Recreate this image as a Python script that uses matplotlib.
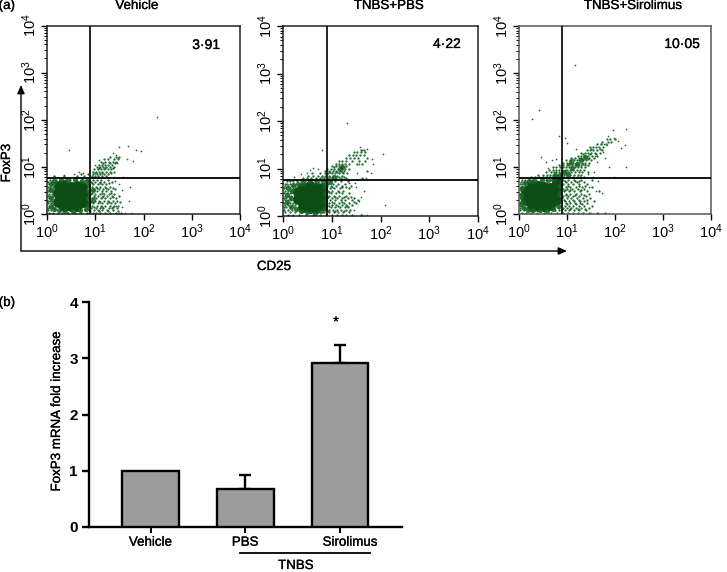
import matplotlib
matplotlib.use('Agg')
import matplotlib.pyplot as plt
import matplotlib.patheffects as pe
from matplotlib.transforms import ScaledTranslation

plt.rcParams['font.family'] = ['Liberation Sans', 'DejaVu Sans']
plt.rcParams['mathtext.fontset'] = 'custom'
plt.rcParams['mathtext.rm'] = 'Liberation Sans'
plt.rcParams['mathtext.default'] = 'regular'

W, H = 727, 572

panel_titles = ['Vehicle', 'TNBS+PBS', 'TNBS+Sirolimus']
panel_percent = ['3·91', '4·22', '10·05']
gate_x = [0.90, 0.90, 0.90]
gate_y = [0.76, 0.76, 0.76]
decades = [0, 1, 2, 3, 4]

# dense centre of each cloud
vehicle_core = [(.22, .25), (.22, .45), (.25, .6), (.36, .17), (.36, .33), (.36, .5), (.36, .62),
                (.5, .16), (.5, .3), (.5, .44), (.5, .58), (.63, .18), (.63, .32), (.63, .46),
                (.63, .6), (.75, .25), (.75, .42), (.72, .58)]
pbs_core = [(.3, .35), (.3, .5), (.42, .2), (.42, .35), (.42, .5), (.42, .6), (.55, .16), (.55, .28),
            (.55, .42), (.55, .56), (.55, .64), (.68, .17), (.68, .3), (.68, .45), (.68, .6),
            (.8, .24), (.8, .4), (.8, .58)]
sirolimus_core = [(.15, .3), (.15, .48), (.27, .18), (.27, .34), (.27, .5), (.27, .6), (.4, .17),
                  (.4, .3), (.4, .45), (.4, .6), (.53, .16), (.53, .28), (.53, .44), (.53, .58),
                  (.65, .2), (.65, .38), (.65, .55), (.77, .3), (.77, .5), (.8, .68)]

# thick band between the centre and the speckle
vehicle_band = [(.08, .18), (.08, .34), (.08, .5), (.08, .64), (.14, .1), (.14, .7), (.24, .08), (.3, .72),
                (.38, .07), (.44, .72), (.54, .07), (.58, .72), (.68, .08), (.72, .71), (.8, .1),
                (.84, .2), (.85, .34), (.85, .48), (.84, .62), (.83, .71), (.95, .3), (.96, .5)]
pbs_band = [(.08, .3), (.08, .45), (.1, .6), (.16, .2), (.16, .38), (.18, .52), (.2, .66), (.26, .14),
            (.3, .68), (.36, .1), (.42, .7), (.5, .08), (.56, .73), (.66, .07), (.7, .72), (.78, .1),
            (.84, .72), (.86, .16), (.86, .32), (.87, .48), (.87, .62), (.96, .72), (1.04, .82),
            (1.16, .98), (1.22, 1.04)]
sirolimus_band = [(.05, .22), (.05, .4), (.06, .56), (.1, .12), (.12, .66), (.18, .09), (.2, .7),
                  (.3, .08), (.32, .71), (.44, .08), (.48, .72), (.58, .07), (.6, .72), (.7, .1),
                  (.72, .74), (.82, .16), (.84, .42), (.86, .6), (.85, .82), (.74, .84), (.93, .9),
                  (1.02, .86), (1.1, .98), (1.2, 1.06), (1.08, 1.1), (1.3, 1.14), (1.38, 1.22)]

# speckle around the centre, one list of CD25 values per FoxP3 level
vehicle_rows = {
    .03: [.05, .12, .22, .31, .44, .58, .71, .83, .95, 1.02, 1.1, 1.2, 1.31, 1.42, 1.53],
    .08: [.03, .09, .17, .26, .37, .52, .66, .78, .88, .97, 1.06, 1.13, 1.25, 1.37],
    .13: [.02, .07, .14, .83, .92, 1.01, 1.09, 1.17, 1.28, 1.34, 1.45],
    .18: [.05, .11, .85, .94, 1.03, 1.12, 1.21, 1.3, 1.39, 1.48],
    .23: [.03, .08, .13, .87, .96, 1.05, 1.15, 1.24, 1.33, 1.41],
    .28: [.02, .06, .11, .9, .99, 1.08, 1.18, 1.27, 1.36, 1.46],
    .33: [.04, .09, .86, .94, 1.02, 1.11, 1.21, 1.3, 1.43],
    .38: [.02, .07, .12, .88, .97, 1.06, 1.16, 1.25, 1.35, 1.49],
    .43: [.04, .1, .91, 1.0, 1.09, 1.19, 1.28, 1.38],
    .48: [.02, .06, .11, .87, .95, 1.03, 1.13, 1.22, 1.33],
    .53: [.04, .09, .14, .89, .98, 1.07, 1.17, 1.26, 1.4],
    .58: [.02, .07, .12, .86, .93, 1.01, 1.1, 1.2, 1.31],
    .63: [.05, .1, .16, .88, .96, 1.05, 1.14, 1.23],
    .68: [.03, .08, .14, .2, .3, .42, .84, .91, 1.0, 1.09, 1.18, 1.34],
    .73: [.06, .12, .18, .27, .37, .48, .6, .7, .8, .87, .95, 1.04, 1.12, 1.26],
    .8: [.14, .36, .62, .76, .93, .99, 1.06, 1.14, 1.22],
    .85: [.7, .85, .96, 1.03, 1.1, 1.18, 1.26],
    .9: [.95, 1.02, 1.08, 1.15, 1.22, 1.3, 1.39],
    .95: [.98, 1.05, 1.12, 1.18, 1.26, 1.33],
    1.0: [1.03, 1.1, 1.16, 1.23, 1.3, 1.38],
    1.05: [1.08, 1.14, 1.2, 1.27, 1.34],
    1.1: [1.12, 1.2, 1.28, 1.36, 1.44],
    1.16: [1.18, 1.27, 1.38, 1.48],
    1.22: [1.3, 1.42, 1.5],
    # levels in between, thinner
    .055: [.9, 1.08, 1.27, 1.47],
    .155: [.98, 1.14, 1.36],
    .255: [.92, 1.1, 1.29, 1.52],
    .355: [.98, 1.15, 1.37],
    .455: [.94, 1.14, 1.33],
    .555: [1.03, 1.22, 1.37],
    .655: [.93, 1.1, 1.28],
    .875: [1.0, 1.14, 1.32],
    .975: [1.08, 1.2, 1.36],
    1.075: [1.17, 1.31, 1.41],
}
pbs_rows = {
    .03: [.1, .2, .33, .47, .62, .76, .88, 1.0, 1.1, 1.2, 1.3, 1.42, 1.6],
    .08: [.05, .14, .25, .38, .56, .72, .85, .95, 1.04, 1.13, 1.24, 1.36],
    .13: [.03, .1, .19, .28, .87, .94, 1.02, 1.1, 1.19, 1.29, 1.38],
    .18: [.02, .07, .14, .22, .89, .98, 1.06, 1.16, 1.27, 1.33],
    .23: [.04, .1, .18, .25, .91, 1.0, 1.09, 1.2, 1.3, 1.41],
    .28: [.02, .08, .15, .21, .87, .95, 1.04, 1.14, 1.25, 1.36, 1.5],
    .33: [.04, .11, .17, .89, .97, 1.07, 1.18, 1.28, 1.42, 1.54],
    .38: [.02, .07, .14, .91, 1.0, 1.1, 1.21, 1.33, 1.46],
    .43: [.05, .1, .17, .87, .95, 1.04, 1.15, 1.3],
    .48: [.02, .08, .14, .89, .98, 1.08, 1.2, 1.35],
    .53: [.04, .11, .17, .92, 1.01, 1.12, 1.24],
    .58: [.02, .07, .14, .2, .88, .96, 1.05, 1.16, 1.36],
    .63: [.05, .11, .18, .24, .9, .99, 1.09, 1.22, 1.4],
    .68: [.04, .09, .15, .22, .3, .38, .85, .93, 1.02, 1.12, 1.28],
    .73: [.08, .14, .2, .28, .36, .45, .54, .65, .78, .88, .96, 1.06, 1.18, 1.34],
    .79: [.42, .5, .58, .68, .76, .84, .92, 1.0, 1.08, 1.18, 1.3, 1.62],
    .85: [.52, .62, .72, .8, .87, .94, 1.02, 1.1, 1.2],
    .9: [.6, .75, .86, .93, 1.0, 1.07, 1.15, 1.24, 1.32],
    .95: [.86, .94, 1.02, 1.09, 1.16, 1.25, 1.72],
    1.0: [.9, .98, 1.05, 1.13, 1.2, 1.28, 1.36],
    1.05: [1.0, 1.08, 1.15, 1.22, 1.3],
    1.1: [1.08, 1.14, 1.2, 1.28, 1.36, 1.52, 1.62],
    1.16: [1.15, 1.22, 1.3, 1.42, 1.56, 1.68],
    1.22: [1.3, 1.38, 1.46, 1.54, 1.72],
    1.28: [1.36, 1.44, 1.5, 1.58, 1.66],
    1.34: [1.46, 1.52, 1.6, 1.68],
    1.4: [1.6, 1.66],
    # levels in between, thinner
    .105: [.92, 1.07, 1.25],
    .205: [.94, 1.12, 1.32],
    .305: [1.0, 1.2, 1.45],
    .405: [.93, 1.06, 1.25, 1.4],
    .505: [.95, 1.15],
    .605: [1.01, 1.2, 1.3],
    .82: [.8, .97, 1.14, 1.25],
    .925: [.97, 1.11, 1.2],
    1.025: [1.04, 1.18, 1.26],
}
sirolimus_rows = {
    .03: [.06, .14, .26, .38, .52, .66, .8, .92, 1.02, 1.12, 1.22, 1.33, 1.46, 1.62, 1.8],
    .08: [.03, .1, .2, .32, .46, .6, .74, .84, .95, 1.04, 1.14, 1.25, 1.4],
    .13: [.02, .06, .12, .84, .92, 1.0, 1.09, 1.18, 1.3, 1.46],
    .18: [.04, .09, .86, .95, 1.04, 1.13, 1.24, 1.36, 1.52],
    .23: [.02, .07, .12, .88, .98, 1.07, 1.17, 1.28, 1.42],
    .28: [.04, .09, .87, .96, 1.05, 1.15, 1.27, 1.36, 1.56],
    .33: [.02, .07, .9, .99, 1.09, 1.2, 1.33, 1.48],
    .38: [.04, .08, .92, 1.02, 1.12, 1.24, 1.4],
    .43: [.02, .06, .88, .97, 1.07, 1.18, 1.3, 1.46],
    .48: [.04, .86, .94, 1.04, 1.14, 1.27, 1.42, 1.66],
    .53: [.02, .07, .91, 1.0, 1.1, 1.22, 1.35],
    .58: [.04, .09, .88, .97, 1.07, 1.18, 1.32, 1.52],
    .63: [.02, .07, .13, .92, 1.02, 1.13, 1.26, 1.42],
    .68: [.04, .1, .17, .25, .88, .97, 1.08, 1.2, 1.36],
    .73: [.06, .13, .2, .28, .36, .46, .56, .66, .92, 1.02, 1.14, 1.3, 1.52],
    .79: [.26, .34, .42, .5, .56, .62, .68, .74, .8, .86, .92, .98, 1.05, 1.12, 1.2, 1.28, 1.36],
    .84: [.4, .5, .58, .64, .7, .76, .82, .88, .94, 1.0, 1.07, 1.14, 1.22, 1.3],
    .89: [.56, .66, .72, .78, .84, .9, .96, 1.02, 1.09, 1.16, 1.24, 1.32, 1.44],
    .94: [.62, .7, .77, .83, .89, .95, 1.01, 1.07, 1.13, 1.2, 1.28, 1.36],
    .99: [.7, .78, .86, .92, .98, 1.04, 1.1, 1.16, 1.22, 1.3, 1.38],
    1.04: [.84, .92, .99, 1.05, 1.11, 1.17, 1.23, 1.3, 1.37, 1.44],
    1.09: [.92, 1.0, 1.06, 1.12, 1.18, 1.24, 1.31, 1.38, 1.46],
    1.14: [.98, 1.06, 1.14, 1.2, 1.26, 1.33, 1.4, 1.5],
    1.19: [1.08, 1.16, 1.24, 1.3, 1.38, 1.46, 1.56],
    1.24: [1.22, 1.3, 1.38, 1.44, 1.52, 1.62],
    1.3: [1.3, 1.38, 1.44, 1.5, 1.58, 1.68],
    1.36: [1.42, 1.48, 1.55, 1.62, 1.72],
    1.42: [1.48, 1.54, 1.6, 1.66, 1.76],
    1.48: [1.62, 1.7, 1.82],
    1.54: [1.72, 1.85, 1.92],
    1.6: [1.84, 1.9, 2.0],
    # levels in between, thinner
    .105: [.9, 1.06, 1.22, 1.38],
    .205: [1.0, 1.18, 1.31],
    .305: [.93, 1.12, 1.25, 1.42],
    .405: [.97, 1.16, 1.35],
    .505: [.95, 1.06, 1.3],
    .605: [1.03, 1.24, 1.38],
    .705: [.95, 1.16, 1.26],
    1.065: [1.03, 1.21, 1.34],
    1.165: [1.1, 1.29, 1.44],
    1.27: [1.34, 1.47, 1.6],
    1.39: [1.51, 1.68],
}

# single events out on the edge of the cloud
vehicle_sparse = [(.45, 1.36), (2.28, 2.06), (1.68, 1.45), (1.85, 1.35), (1.95, 1.34), (1.5, 1.42),
                  (1.65, 1.16), (1.78, 1.12), (1.72, .58), (1.7, .28), (1.62, .02), (1.75, .02),
                  (1.5, .02), (1.55, .5), (1.58, .78), (1.48, 1.18), (1.42, 1.25), (1.36, 1.3),
                  (1.56, .14), (1.5, .64), (.66, .9), (.75, .86), (.55, .84), (.35, .82), (.15, .8),
                  (1.4, .7), (1.44, .16), (1.46, 1.08), (1.38, .78), (1.08, 1.14), (1.0, 1.05)]
pbs_sparse = [(.8, 1.38), (1.32, 1.96), (2.05, 1.3), (2.1, .24), (1.8, .9), (1.85, 1.1), (1.82, 1.2),
              (1.7, .8), (1.72, 1.42), (1.62, 1.4), (1.58, 1.46), (1.66, .52),
              (1.6, .4), (1.5, .62), (1.48, .7), (1.45, .12), (1.55, .32), (1.62, .02), (1.72, .02),
              (.5, .9), (.55, .96), (.36, .88), (.22, .82), (.72, .98), (.62, 1.02), (1.36, .7),
              (1.52, .9), (1.56, 1.1)]
sirolimus_sparse = [(1.17, 3.16), (.42, 2.22), (.27, 2.03), (.83, 1.66), (.95, 1.62), (1.0, 1.52),
                    (1.18, 1.38), (.46, 1.22), (.57, 1.1), (.68, 1.14), (.78, 1.18), (.6, .98),
                    (1.95, 1.78), (2.22, 1.8), (1.98, 1.62), (2.06, 1.56), (2.2, 1.46), (2.12, 1.4),
                    (2.23, 1.0), (1.98, .78), (1.88, 1.0), (1.8, 1.2), (1.78, 1.5), (1.7, 1.48),
                    (1.84, 1.46), (1.86, 1.66), (1.65, .7), (1.6, .48), (1.72, .44), (1.55, .78),
                    (1.65, .02), (1.5, .02), (1.45, .58),
                    (1.56, .9), (1.62, 1.1), (1.44, .86), (1.74, 1.32), (1.58, 1.24)]

# bar panel
bar_labels = ['Vehicle', 'PBS', 'Sirolimus']
bar_values = [1.0, 0.68, 2.91]
bar_errors = [0, 0.24, 0.32]
bar_ticks = [0, 1, 2, 3, 4]

fig = plt.figure(figsize=(W / 100, H / 100), dpi=100)
heavy = [pe.withStroke(linewidth=0.2, foreground='black')]


def make_axes(left, top, right, bottom):
    return fig.add_axes([left / W, 1 - bottom / H, (right - left) / W, (bottom - top) / H])


# whole figure overlay in pixel coordinates for the loose text and arrows
over = fig.add_axes([0, 0, 1, 1], zorder=5)
over.set_xlim(0, W)
over.set_ylim(H, 0)
over.axis('off')
over.patch.set_alpha(0)


def label(x, y, s, size=9.6, **kw):
    over.text(x, y, s, ha='center', va='center', fontsize=size, path_effects=heavy, **kw)


boxes = [(47, 25.5, 240, 214), (283, 26, 478, 216), (519, 26, 711, 214)]
title_x = [137, 389, 633]
percent_pos = [(206, 45), (447, 44), (682, 44)]
cores = [vehicle_core, pbs_core, sirolimus_core]
bands = [vehicle_band, pbs_band, sirolimus_band]
rows = [vehicle_rows, pbs_rows, sirolimus_rows]
sparses = [vehicle_sparse, pbs_sparse, sirolimus_sparse]
spine_colors = ['#222222', '#222222', '#555555']


def draw_cells(ax, cells, size, color, alpha=1.0):
    xs = [10 ** p[0] for p in cells]
    ys = [10 ** p[1] for p in cells]
    ax.scatter(xs, ys, s=size, c=color, alpha=alpha, linewidths=0, zorder=2)


for i in range(3):
    ax = make_axes(*boxes[i])
    ax.set_xscale('log')
    ax.set_yscale('log')
    ax.set_xlim(1, 1e4)
    ax.set_ylim(1, 1e4)
    draw_cells(ax, cores[i], 62, '#0b4d12')
    draw_cells(ax, bands[i], 14, '#15601f', 0.85)
    speckle = [(x, y) for y, xs in rows[i].items() for x in xs]
    draw_cells(ax, speckle, 2.8, '#1a662a', 0.95)
    draw_cells(ax, sparses[i], 1.5, '#1e6b2e')
    ax.axvline(10 ** gate_x[i], color='black', lw=1.2, zorder=3)
    ax.axhline(10 ** gate_y[i], color='black', lw=1.3, zorder=3)
    ax.set_xticks([10 ** d for d in decades])
    ax.set_yticks([10 ** d for d in decades])
    ax.set_xticklabels(['$10^{%d}$' % d for d in decades], fontsize=10.5)
    ax.set_yticklabels(['$10^{%d}$' % d for d in decades], fontsize=10.5, rotation=90, va='center')
    ax.tick_params(which='major', length=4, width=1, pad=2)
    ax.tick_params(which='minor', length=2, width=0.7)
    for s in ax.spines.values():
        s.set_linewidth(1.1)
        s.set_color(spine_colors[i])
    label(title_x[i], 6, panel_titles[i])
    label(percent_pos[i][0], percent_pos[i][1], panel_percent[i], size=10)

arrow = dict(arrowstyle='-|>,head_length=0.5,head_width=0.22', color='black', lw=1.0, shrinkA=0, shrinkB=0)
over.annotate('', xy=(21, 85), xytext=(21, 251), arrowprops=arrow)
over.annotate('', xy=(567, 251), xytext=(21, 251), arrowprops=arrow)
label(7, 163, 'FoxP3', rotation=90)
label(274, 267, 'CD25')
label(7, 6, '(a)')
label(7, 303, '(b)')

# bar chart
bx = make_axes(89, 302, 402, 527)
positions = list(range(len(bar_values)))
bx.bar(positions, bar_values, width=0.6, color='#9c9c9c', edgecolor='black', linewidth=1.7, zorder=3)
bx.errorbar(positions[1:], bar_values[1:], yerr=[[0, 0], bar_errors[1:]], fmt='none', ecolor='black',
            elinewidth=1.7, capsize=4, capthick=1.7, zorder=2)
bx.set_xlim(-0.65, 2.655)
bx.set_ylim(0, 4)
bx.set_yticks(bar_ticks)
bx.set_yticklabels([str(t) for t in bar_ticks], fontsize=11, fontweight='bold')
bx.set_xticks(positions)
bx.set_xticklabels(bar_labels, fontsize=9.6, path_effects=heavy)
bx.tick_params(axis='y', length=5, width=1.7, pad=3)
bx.tick_params(axis='x', length=4, width=1.4, pad=3)
for name in ['top', 'right']:
    bx.spines[name].set_visible(False)
for name in ['left', 'bottom']:
    bx.spines[name].set_linewidth(1.7)
lab = bx.get_xticklabels()[2]
lab.set_transform(lab.get_transform() + ScaledTranslation(10 / 100, 0, fig.dpi_scale_trans))

label(57, 411, 'FoxP3 mRNA fold increase', rotation=90)
label(336, 322, '*', size=10)
over.plot([240, 370], [553, 553], color='black', lw=1.3)
label(296, 566, 'TNBS')

fig.savefig('out.png', dpi=100)
